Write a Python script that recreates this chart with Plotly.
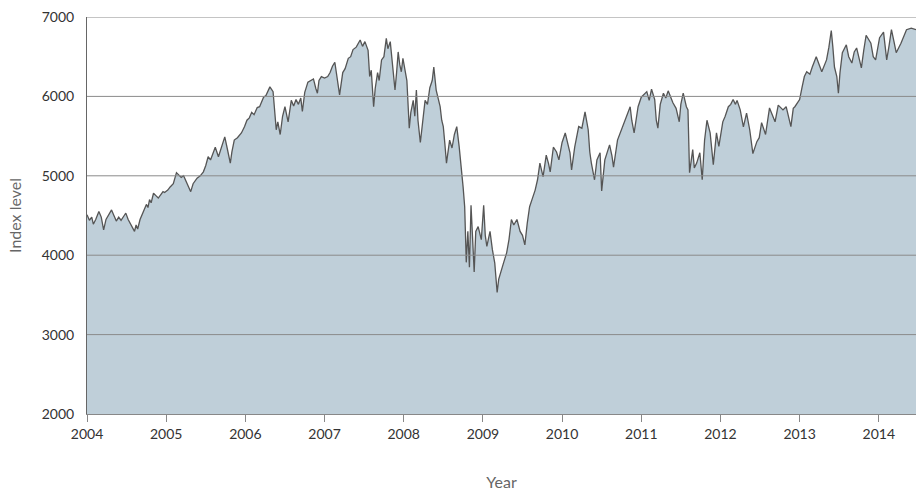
import plotly.graph_objects as go

# Decimal-year dates and index levels
years = [
    2004.00, 2004.03, 2004.06, 2004.08, 2004.11, 2004.15, 2004.18, 2004.21, 2004.24, 2004.28,
    2004.31, 2004.34, 2004.37, 2004.40, 2004.43, 2004.47, 2004.49, 2004.52, 2004.55, 2004.58,
    2004.60, 2004.62, 2004.64, 2004.67, 2004.70, 2004.72, 2004.75, 2004.77, 2004.79, 2004.81,
    2004.84, 2004.87, 2004.90, 2004.93, 2004.96, 2004.98, 2005.02, 2005.05, 2005.09, 2005.13,
    2005.16, 2005.19, 2005.22, 2005.26, 2005.31, 2005.34, 2005.39, 2005.43, 2005.47, 2005.50,
    2005.53, 2005.56, 2005.60, 2005.62, 2005.66, 2005.69, 2005.72, 2005.74, 2005.77, 2005.81,
    2005.83, 2005.86, 2005.90, 2005.95, 2005.99, 2006.02, 2006.05, 2006.08, 2006.11, 2006.15,
    2006.18, 2006.23, 2006.26, 2006.29, 2006.31, 2006.35, 2006.37, 2006.39, 2006.41, 2006.44,
    2006.47, 2006.50, 2006.54, 2006.58, 2006.61, 2006.64, 2006.67, 2006.70, 2006.72, 2006.75,
    2006.79, 2006.82, 2006.86, 2006.89, 2006.91, 2006.93, 2006.96, 2007.00, 2007.04, 2007.07,
    2007.10, 2007.13, 2007.16, 2007.17, 2007.19, 2007.23, 2007.26, 2007.30, 2007.33, 2007.36,
    2007.40, 2007.45, 2007.48, 2007.51, 2007.55, 2007.57, 2007.59, 2007.62, 2007.64, 2007.67,
    2007.69, 2007.72, 2007.75, 2007.78, 2007.80, 2007.83, 2007.86, 2007.89, 2007.91, 2007.93,
    2007.95, 2007.97, 2007.99, 2008.04, 2008.07, 2008.09, 2008.12, 2008.14, 2008.16, 2008.18,
    2008.21, 2008.24, 2008.27, 2008.30, 2008.33, 2008.36, 2008.38, 2008.41, 2008.43, 2008.46,
    2008.48, 2008.50, 2008.52, 2008.54, 2008.58, 2008.61, 2008.64, 2008.67, 2008.70, 2008.73,
    2008.75, 2008.77, 2008.79, 2008.81, 2008.83, 2008.85, 2008.87, 2008.89, 2008.91, 2008.94,
    2008.98, 2009.01, 2009.03, 2009.05, 2009.09, 2009.10, 2009.12, 2009.15, 2009.18, 2009.20,
    2009.24, 2009.26, 2009.30, 2009.33, 2009.36, 2009.39, 2009.43, 2009.47, 2009.50, 2009.53,
    2009.56, 2009.59, 2009.62, 2009.66, 2009.69, 2009.72, 2009.76, 2009.80, 2009.83, 2009.85,
    2009.89, 2009.93, 2009.96, 2010.00, 2010.04, 2010.07, 2010.10, 2010.12, 2010.16, 2010.21,
    2010.25, 2010.29, 2010.31, 2010.33, 2010.35, 2010.37, 2010.41, 2010.44, 2010.48, 2010.50,
    2010.54, 2010.57, 2010.60, 2010.63, 2010.65, 2010.70, 2010.75, 2010.78, 2010.81, 2010.86,
    2010.88, 2010.91, 2010.96, 2011.00, 2011.07, 2011.10, 2011.13, 2011.17, 2011.19, 2011.21,
    2011.24, 2011.28, 2011.31, 2011.34, 2011.40, 2011.44, 2011.48, 2011.50, 2011.53, 2011.57,
    2011.59, 2011.61, 2011.65, 2011.67, 2011.70, 2011.74, 2011.77, 2011.80, 2011.83, 2011.87,
    2011.91, 2011.95, 2011.98, 2012.03, 2012.06, 2012.10, 2012.13, 2012.16, 2012.19, 2012.21,
    2012.25, 2012.29, 2012.33, 2012.37, 2012.41, 2012.46, 2012.49, 2012.52, 2012.57, 2012.60,
    2012.62, 2012.69, 2012.73, 2012.79, 2012.83, 2012.89, 2012.92, 2012.94, 2013.00, 2013.03,
    2013.06, 2013.09, 2013.13, 2013.16, 2013.21, 2013.28, 2013.34, 2013.37, 2013.40, 2013.42,
    2013.44, 2013.47, 2013.49, 2013.51, 2013.54, 2013.59, 2013.62, 2013.66, 2013.69, 2013.72,
    2013.78, 2013.81, 2013.84, 2013.90, 2013.93, 2013.96, 2014.01, 2014.06, 2014.10, 2014.13,
    2014.16, 2014.19, 2014.22, 2014.28, 2014.35, 2014.41, 2014.47,
]
index_level = [
    4510, 4440, 4480, 4390, 4450, 4550, 4480, 4320, 4450, 4520,
    4570, 4500, 4430, 4480, 4440, 4500, 4530, 4450, 4390, 4340,
    4300, 4380, 4330, 4450, 4520, 4560, 4640, 4600, 4700, 4660,
    4780, 4750, 4720, 4760, 4800, 4790, 4820, 4860, 4900, 5040,
    5010, 4980, 5000, 4920, 4800, 4900, 4970, 5000, 5050, 5130,
    5240, 5200, 5300, 5360, 5240, 5330, 5420, 5490, 5350, 5160,
    5300, 5450, 5480, 5540, 5620, 5700, 5730, 5800, 5770, 5860,
    5870, 5990, 6010, 6080, 6120, 6060, 5800, 5580, 5680, 5520,
    5750, 5870, 5680, 5950, 5880, 5960, 5900, 5980, 5810, 6050,
    6180, 6200, 6220, 6100, 6040, 6200, 6250, 6230, 6250, 6300,
    6380, 6430, 6200, 6120, 6020, 6300, 6350, 6480, 6500, 6590,
    6620, 6710, 6630, 6690, 6580, 6250, 6330, 5870, 6100, 6300,
    6200, 6460, 6500, 6730, 6600, 6690, 6400, 6080, 6300, 6560,
    6400, 6310, 6480, 6200, 5600, 5800, 5950, 5750, 6080, 5700,
    5420, 5650, 5950, 5900, 6110, 6200, 6370, 6080, 6000, 5870,
    5700, 5620, 5400, 5160, 5450, 5350, 5520, 5620, 5370, 5110,
    4860, 4610, 3910, 4300, 3850, 4630, 4200, 3790, 4300, 4360,
    4195, 4630, 4250, 4110, 4300, 4200, 4070, 3900, 3530, 3700,
    3820, 3900, 4030, 4200, 4450, 4380, 4450, 4300, 4250, 4130,
    4400, 4610, 4700, 4820, 4950, 5160, 4990, 5260, 5150, 5050,
    5360, 5300, 5200, 5420, 5540, 5400, 5290, 5075, 5365, 5620,
    5600, 5805, 5700, 5580, 5300, 5160, 4950, 5200, 5290, 4810,
    5200, 5300, 5390, 5250, 5110, 5450, 5580, 5650, 5730, 5870,
    5700, 5540, 5870, 5990, 6060, 5950, 6090, 5960, 5700, 5600,
    5900, 6040, 5980, 6070, 5920, 5850, 5680, 5900, 6040, 5870,
    5830, 5040, 5330, 5100, 5160, 5290, 4950, 5450, 5700, 5540,
    5140, 5540, 5370, 5680, 5750, 5870, 5900, 5960, 5900, 5950,
    5830, 5616, 5790, 5580, 5280, 5430, 5480, 5670, 5520, 5700,
    5855, 5680, 5890, 5830, 5870, 5620, 5850, 5870, 5960, 6110,
    6250, 6310, 6280, 6370, 6500, 6310, 6460, 6620, 6830, 6620,
    6370, 6250, 6040, 6300, 6550, 6650, 6500, 6420, 6560, 6610,
    6360, 6580, 6770, 6670, 6500, 6460, 6740, 6810, 6460, 6640,
    6840, 6700, 6550, 6670, 6840, 6860, 6840,
]
x_ticks = [2004, 2005, 2006, 2007, 2008, 2009, 2010, 2011, 2012, 2013, 2014]
y_ticks = [2000, 3000, 4000, 5000, 6000, 7000]

fig = go.Figure()
fig.add_trace(go.Scatter(
    x=years, y=index_level, mode="lines",
    line=dict(color="#555555", width=1.3),
    fill="tozeroy", fillcolor="#bfcfd9",
    showlegend=False, hoverinfo="x+y",
))

# Horizontal gridlines drawn above the filled area (as in the reference)
for yv in y_ticks[1:]:
    fig.add_hline(y=yv, line=dict(color="#8a8a8a", width=1), layer="above")

font_family = "Lato, 'Open Sans', sans-serif"
fig.update_layout(
    width=916, height=491,
    margin=dict(l=87, r=0, t=17, b=77),
    paper_bgcolor="white", plot_bgcolor="white",
    font=dict(family=font_family, size=14, color="#333333"),
    xaxis=dict(
        range=[2004, max(years)],
        tickmode="array", tickvals=x_ticks, ticktext=[str(t) for t in x_ticks],
        ticks="outside", ticklen=7, tickcolor="#888888",
        tickfont=dict(color="#333333"),
        showgrid=False, zeroline=False,
        showline=True, linecolor="#888888", linewidth=1,
        title=dict(text="Year", standoff=37, font=dict(size=16, color="#666666")),
    ),
    yaxis=dict(
        range=[2000, 7000],
        tickmode="array", tickvals=y_ticks,
        tickfont=dict(color="#333333"),
        showgrid=False,
        zeroline=False, showline=True, linecolor="#666666", linewidth=1,
        ticks="", ticklabelstandoff=9,
        title=dict(text="Index level", standoff=16, font=dict(size=16, color="#666666")),
    ),
)

fig.write_html(
    "out.html",
    config={"displayModeBar": False},
    post_script="document.body.style.margin='0';document.body.style.overflow='hidden';",
)
